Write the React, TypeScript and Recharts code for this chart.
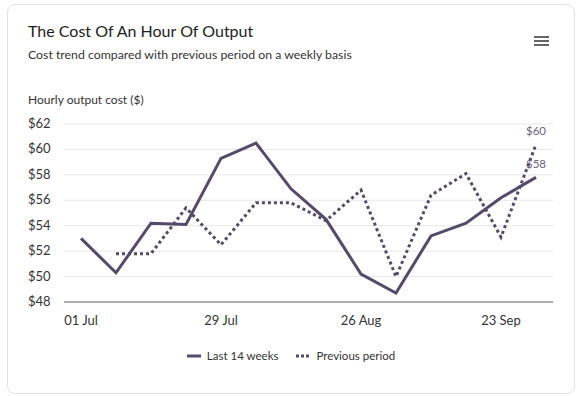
import { CartesianGrid, LabelList, Line, LineChart, XAxis, YAxis } from 'recharts'

const weeks = [
  '01 Jul', '08 Jul', '15 Jul', '22 Jul', '29 Jul', '05 Aug', '12 Aug',
  '19 Aug', '26 Aug', '02 Sep', '09 Sep', '16 Sep', '23 Sep', '30 Sep',
]
const last14 = [53.0, 50.3, 54.2, 54.1, 59.3, 60.5, 56.9, 54.5, 50.2, 48.7, 53.2, 54.2, 56.2, 57.8]
const previous = [null, 51.8, 51.8, 55.4, 52.5, 55.8, 55.8, 54.4, 56.8, 50.0, 56.4, 58.1, 53.1, 60.4]
const yTicks = [48, 50, 52, 54, 56, 58, 60, 62]

const data = weeks.map((week, i) => ({ week, last: last14[i], prev: previous[i] }))

const FONT = 'Lato, "Noto Sans", sans-serif'
const LINE = '#554a6b'

function YTick({ y, payload }: { y?: number; payload?: { value: number } }) {
  return (
    <text x={20} y={y} dy={4} textAnchor="start" fontSize={13} fill="#333" fontFamily={FONT}>
      ${payload?.value}
    </text>
  )
}

// label only the final point of a series
function EndLabel(props: { x?: number; y?: number; index?: number; value?: number }) {
  const { x, y, index, value } = props
  if (index !== weeks.length - 1 || value == null) return null
  return (
    <text x={x} y={(y ?? 0) - 9} textAnchor="middle" fontSize={11.5} fill="#6b6280" fontFamily={FONT}>
      ${Math.round(value)}
    </text>
  )
}

export default function App() {
  return (
    <div
      style={{
        position: 'fixed',
        left: 7,
        top: 4,
        width: 566,
        height: 388,
        border: '1px solid #e3e3e3',
        borderRadius: 8,
        background: '#fff',
        fontFamily: FONT,
      }}
    >
      <div style={{ position: 'absolute', left: 20, top: 16, fontSize: 16, color: '#222' }}>
        The Cost Of An Hour Of Output
      </div>
      <div style={{ position: 'absolute', left: 20, top: 42, fontSize: 12.3, color: '#333' }}>
        Cost trend compared with previous period on a weekly basis
      </div>
      <svg style={{ position: 'absolute', left: 525, top: 30 }} width={18} height={14}>
        {[2, 6, 10].map((y) => (
          <line key={y} x1={1} x2={16} y1={y} y2={y} stroke="#666" strokeWidth={2} />
        ))}
      </svg>
      <div style={{ position: 'absolute', left: 20, top: 87, fontSize: 12, color: '#333' }}>
        Hourly output cost ($)
      </div>

      <LineChart
        width={566}
        height={388}
        data={data}
        margin={{ top: 119, right: 21, bottom: 61, left: 0 }}
        style={{ position: 'absolute', left: 0, top: 0 }}
      >
        <CartesianGrid vertical={false} stroke="#e8e8e8" />
        <XAxis
          dataKey="week"
          interval={3}
          tickLine={false}
          axisLine={{ stroke: '#999', strokeWidth: 1.5 }}
          padding={{ left: 17, right: 17 }}
          tick={{ fontSize: 13, fill: '#333', fontFamily: FONT }}
          tickMargin={8}
          height={30}
        />
        <YAxis
          domain={[48, 62]}
          ticks={yTicks}
          width={56}
          axisLine={false}
          tickLine={false}
          tick={<YTick />}
        />
        <Line
          dataKey="last"
          name="Last 14 weeks"
          stroke={LINE}
          strokeWidth={3}
          dot={false}
          isAnimationActive={false}
        >
          <LabelList dataKey="last" content={<EndLabel />} />
        </Line>
        <Line
          dataKey="prev"
          name="Previous period"
          stroke={LINE}
          strokeWidth={3}
          strokeDasharray="3 3"
          dot={false}
          isAnimationActive={false}
        >
          <LabelList dataKey="prev" content={<EndLabel />} />
        </Line>
      </LineChart>

      <div
        style={{
          position: 'absolute',
          left: 0,
          width: 566,
          top: 344,
          display: 'flex',
          justifyContent: 'center',
          gap: 18,
          fontSize: 11.5,
          color: '#333',
        }}
      >
        <span style={{ display: 'flex', alignItems: 'center', gap: 6 }}>
          <svg width={14} height={4}>
            <line x1={0} x2={14} y1={2} y2={2} stroke={LINE} strokeWidth={3} />
          </svg>
          Last 14 weeks
        </span>
        <span style={{ display: 'flex', alignItems: 'center', gap: 6 }}>
          <svg width={14} height={4}>
            <line x1={0} x2={14} y1={2} y2={2} stroke={LINE} strokeWidth={3} strokeDasharray="3 2" />
          </svg>
          Previous period
        </span>
      </div>
    </div>
  )
}
